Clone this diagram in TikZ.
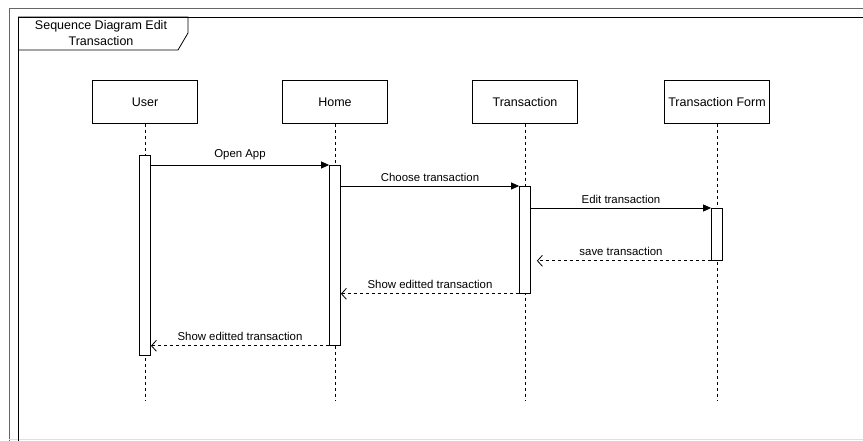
\documentclass[tikz,border=0pt]{standalone}
\usepackage{fontspec}
\setmainfont{Liberation Sans}
\usetikzlibrary{arrows.meta}
\usetikzlibrary{positioning}

\begin{document}
\begin{tikzpicture}[
    x=1pt, y=-1pt,
    obj/.style={draw, line width=0.8pt, minimum width=105pt, minimum height=43pt, inner sep=0pt, font=\fontsize{12.5}{14}\selectfont},
    act/.style={draw, line width=0.8pt, fill=white, minimum width=11pt, inner sep=0pt},
    life/.style={line width=0.8pt, dash pattern=on 3pt off 3pt},
    msg/.style={line width=0.8pt, -{Triangle[length=8pt,width=7pt]}},
    ret/.style={line width=0.8pt, dash pattern=on 3pt off 3pt, -{Straight Barb[length=5pt,width=11pt]}},
    lab/.style={font=\fontsize{11.4}{13}\selectfont, above=1pt, midway}
]
\useasboundingbox (0,0) rectangle (863,441);

% Outer border of the sheet
\draw[gray!80!black, line width=0.8pt] (9,441) -- (9,8) -- (863,8);
\draw[gray!25, line width=0.8pt] (9,439.5) -- (863,439.5);

% Frame and its title tab
\draw[line width=0.8pt] (18,441) -- (18,17) -- (863,17);
\draw[line width=0.8pt] (18,17) -- (188,17) -- (188,33) -- (178,50) -- (18,50);
\node[align=center, font=\fontsize{12.5}{16}\selectfont] (title) at (101,33.5) {Sequence Diagram Edit\\Transaction};

% Lifeline heads
\node[obj] (user) at (145,102) {User};
\node[obj] (home) at (335,102) {Home};
\node[obj] (trans) at (525,102) {Transaction};
\node[obj] (form) at (717,102) {Transaction Form};

% Lifeline ends
\coordinate (userEnd) at (145,400);
\coordinate (homeEnd) at (335,400);
\coordinate (transEnd) at (525,400);
\coordinate (formEnd) at (717,400);

% Lifelines
\draw[life] (user.south) -- (userEnd);
\draw[life] (home.south) -- (homeEnd);
\draw[life] (trans.south) -- (transEnd);
\draw[life] (form.south) -- (formEnd);

% Activation bars
\node[act, anchor=north, minimum height=200pt] (actU) at (145,155) {};
\node[act, anchor=north, minimum height=180pt] (actH) at (335,165) {};
\node[act, anchor=north, minimum height=107pt] (actT) at (525,186) {};
\node[act, anchor=north, minimum height=52pt] (actF) at (717,208) {};

% Calls
\draw[msg] (actU.east |- actH.north) -- (actH.north west) node[lab] {Open App};
\draw[msg] (actH.east |- actT.north) -- (actT.north west) node[lab] {Choose transaction};
\draw[msg] (actT.east |- actF.north) -- (actF.north west) node[lab] {Edit transaction};

% Returns
\draw[ret, shorten >=6pt] (actF.south west) -- (actT.east |- actF.south) node[lab] {save transaction};
\draw[ret] (actT.south west) -- (actH.east |- actT.south) node[lab] {Show editted transaction};
\draw[ret] (actH.south west) -- (actU.east |- actH.south) node[lab] {Show editted transaction};

\end{tikzpicture}
\end{document}
